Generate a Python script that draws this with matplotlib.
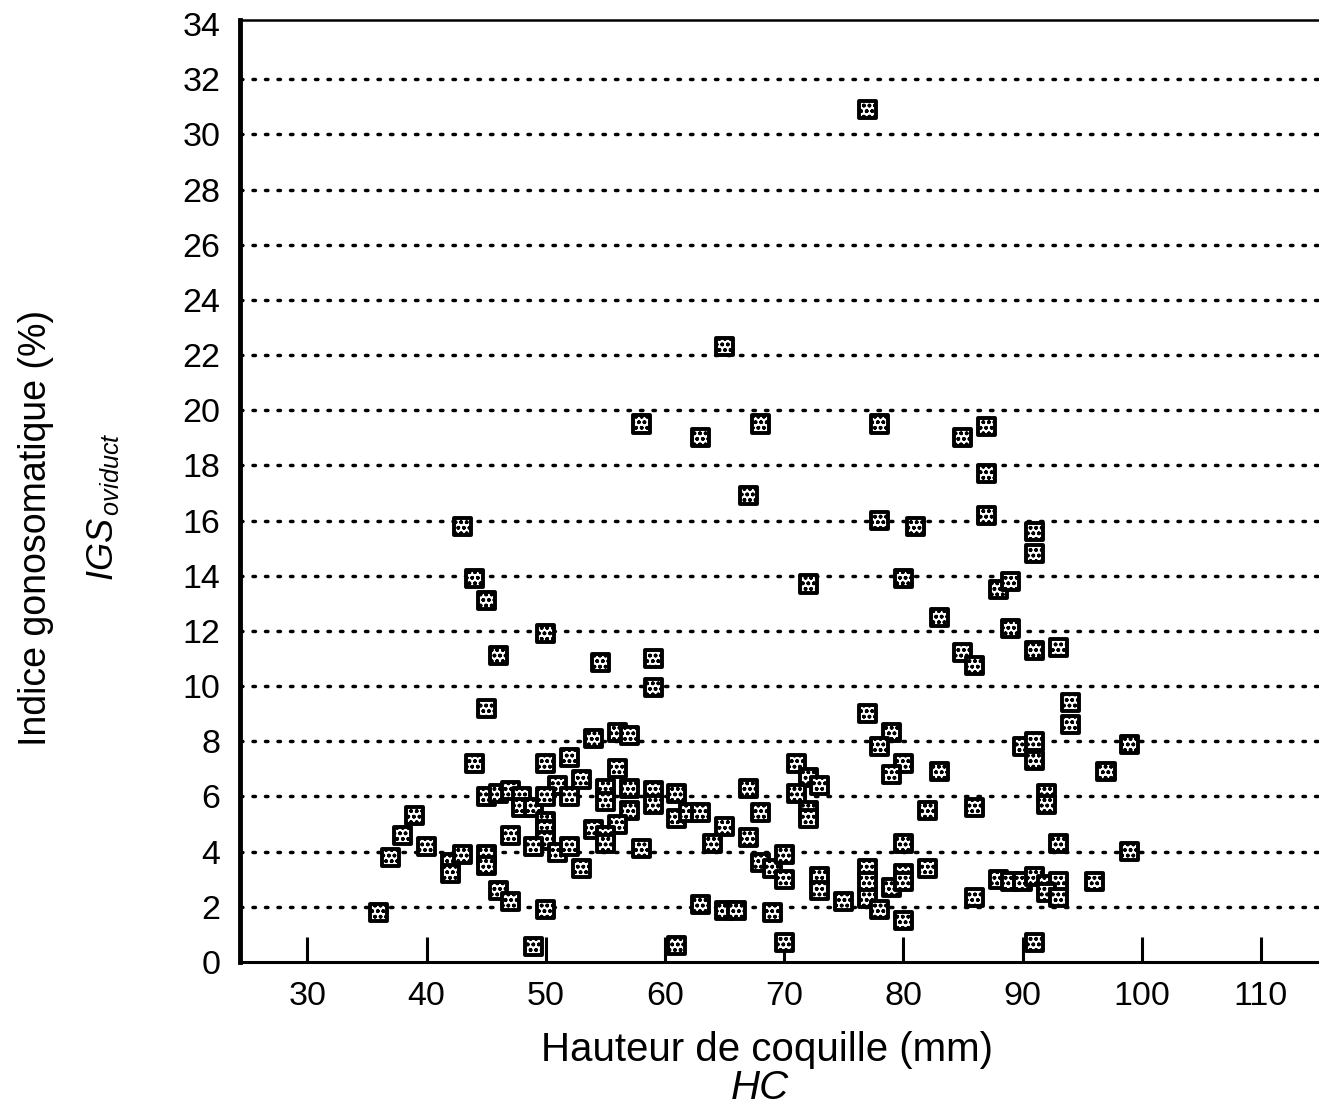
import matplotlib
matplotlib.use('Agg')
import matplotlib.pyplot as plt

plt.rcParams['font.family'] = ['Liberation Sans', 'DejaVu Sans']
plt.rcParams['mathtext.fontset'] = 'custom'
plt.rcParams['mathtext.it'] = 'Liberation Sans:italic'
plt.rcParams['mathtext.rm'] = 'Liberation Sans'
plt.rcParams['hatch.linewidth'] = 1.1

# Hauteur de coquille (mm) vs IGS oviduct (%)
hc_high = [77, 65, 58, 63, 68, 78, 85, 87, 87, 67, 43, 78, 81, 87, 91, 91,
           44, 72, 80, 88, 89, 45, 83, 89, 50, 46, 54.6, 59, 85, 86, 91, 93,
           59, 45, 94, 94, 77]
igs_high = [30.9, 22.3, 19.5, 19.0, 19.5, 19.5, 19.0, 19.4, 17.7, 16.9, 15.8,
            16.0, 15.8, 16.2, 15.6, 14.8, 13.9, 13.7, 13.9, 13.5, 13.8, 13.1,
            12.5, 12.1, 11.9, 11.1, 10.85, 11.0, 11.2, 10.75, 11.3, 11.4, 9.95,
            9.2, 9.4, 8.6, 9.0]

hc_mid = [79, 78, 56, 57, 54, 90, 91, 99, 44, 50, 52, 71, 80, 91, 56, 72, 79,
          83, 97, 67, 73, 51, 53, 45, 46, 47, 48, 48, 49, 50, 52, 55, 55, 57,
          57, 59, 59, 61, 61, 62, 63, 68, 71, 72, 72, 82, 86, 92, 92, 39]
igs_mid = [8.3, 7.8, 8.3, 8.2, 8.1, 7.8, 8.0, 7.9, 7.2, 7.2, 7.4, 7.2, 7.2,
           7.3, 7.0, 6.7, 6.8, 6.9, 6.9, 6.3, 6.4, 6.4, 6.6, 6.0, 6.1, 6.2,
           6.0, 5.6, 5.6, 6.0, 6.0, 6.3, 5.8, 6.3, 5.5, 6.2, 5.7, 6.1, 5.2,
           5.4, 5.4, 5.4, 6.1, 5.5, 5.2, 5.5, 5.6, 6.1, 5.7, 5.3]

hc_low = [50, 50, 50, 49, 51, 52, 47, 38, 40, 37, 42, 42, 43, 45, 45, 46, 47,
          50, 36, 49, 56, 54, 55, 55, 53, 58, 67, 65, 64, 68, 69, 70, 70, 73,
          73, 63, 65, 66, 69, 61, 70, 80, 93, 99, 75, 77, 77, 77, 78, 79, 80,
          80, 80, 82, 86, 88, 89, 90, 91, 92, 93, 92, 93, 96, 91]
igs_low = [5.1, 4.8, 4.4, 4.2, 3.95, 4.2, 4.6, 4.6, 4.2, 3.8, 3.6, 3.2, 3.9,
           3.9, 3.5, 2.6, 2.2, 1.9, 1.8, 0.55, 5.0, 4.8, 4.6, 4.3, 3.4, 4.1,
           4.5, 4.9, 4.3, 3.6, 3.4, 3.9, 3.0, 3.1, 2.6, 2.1, 1.85, 1.85, 1.8,
           0.6, 0.7, 4.3, 4.3, 4.0, 2.2, 3.4, 2.9, 2.3, 1.9, 2.7, 3.2, 2.9,
           1.5, 3.4, 2.35, 3.0, 2.9, 2.9, 3.1, 2.8, 2.9, 2.5, 2.35, 2.9, 0.7]

hc = hc_high + hc_mid + hc_low
igs = igs_high + igs_mid + igs_low

yticks = list(range(0, 35, 2))
xticks = list(range(30, 111, 10))

fig = plt.figure(figsize=(13.19, 11.09), dpi=100)
ax = fig.add_axes([0.182, 0.1326, 0.818, 0.8495])

for v in yticks[1:-1]:
    ax.axhline(v, color='black', lw=2.5, linestyle=(0, (0.7, 2.9)),
               dash_capstyle='round', zorder=1)

ax.scatter(hc, igs, marker='s', s=150, facecolor='white', edgecolor='black',
           linewidths=2.8, hatch='ooo', zorder=3, clip_on=False)

ax.set_xlim(24.35, 114.87)
ax.set_ylim(0, 34.15)
ax.set_xticks(xticks)
ax.set_yticks(yticks)
ax.tick_params(axis='x', direction='in', length=18, width=2.2, pad=14,
               labelsize=24.5)
ax.tick_params(axis='y', length=0, pad=14, labelsize=24.5)
ax.spines['left'].set_linewidth(3.5)
ax.spines['bottom'].set_linewidth(2.2)
ax.spines['top'].set_linewidth(1.8)
ax.spines['right'].set_visible(False)

fig.text(0.5815, 0.053, 'Hauteur de coquille (mm)', ha='center', va='center',
         fontsize=29)
fig.text(0.576, 0.019, 'HC', ha='center', va='center', fontsize=29,
         style='italic')
fig.text(0.027, 0.524, 'Indice gonosomatique (%)', ha='center', va='center',
         rotation=90, fontsize=27)
fig.text(0.078, 0.543, r'$IGS_{\,oviduct}$', ha='center', va='center',
         rotation=90, fontsize=26)

fig.savefig('out.png', dpi=100)
